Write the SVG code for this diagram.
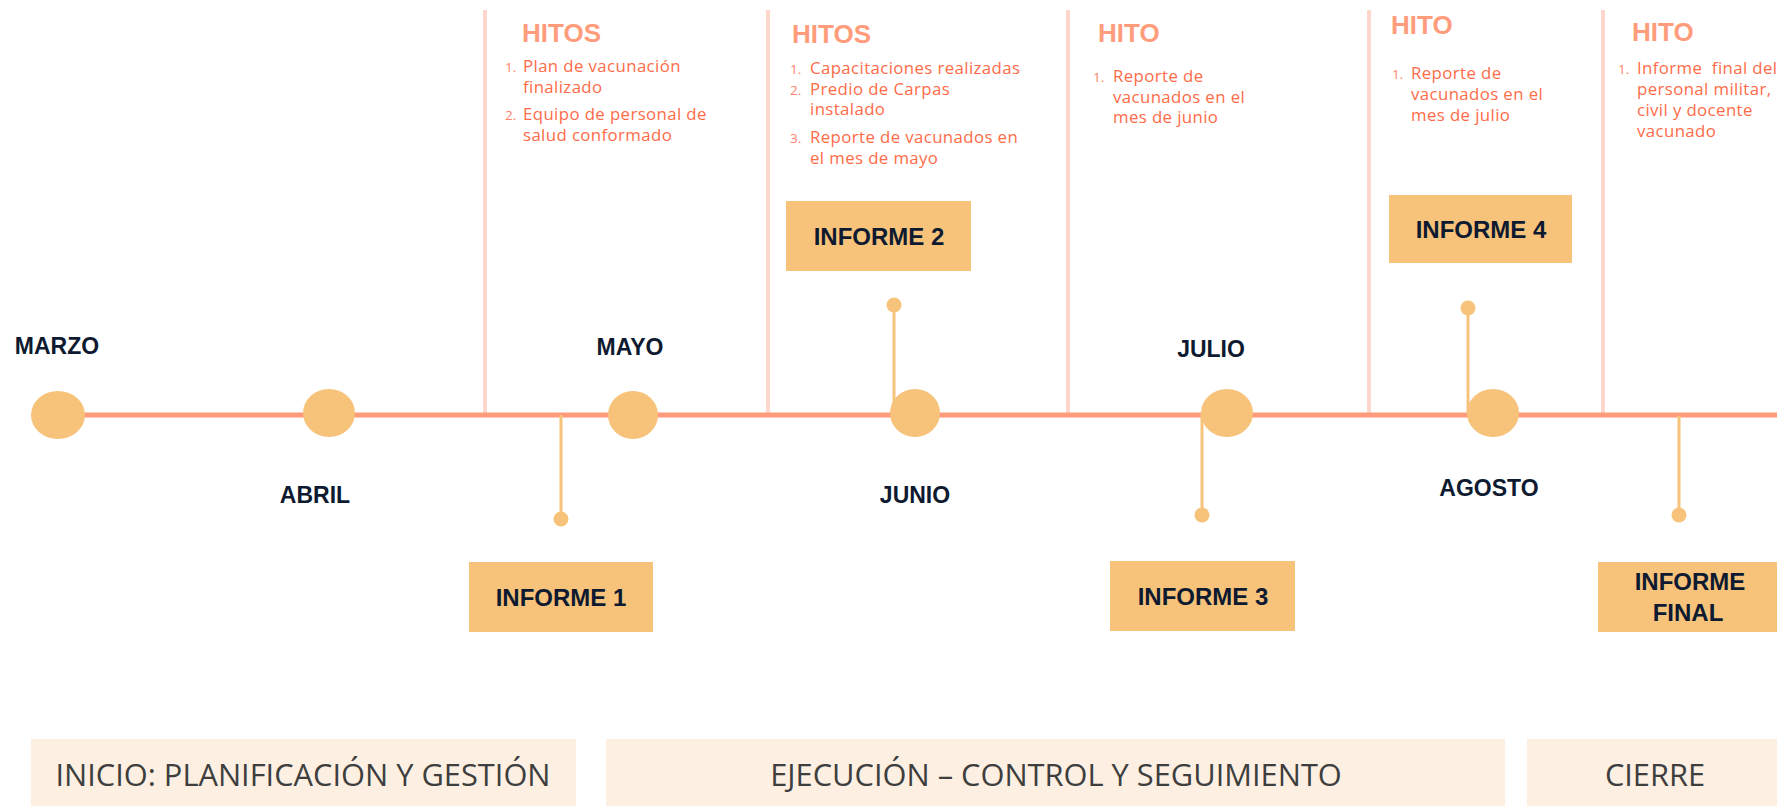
<svg xmlns="http://www.w3.org/2000/svg" width="1777" height="806" viewBox="0 0 1777 806">
<style>
.div{stroke:#FFD6CB;stroke-width:4;fill:none}
.tl{stroke:#FF9A7A;stroke-width:5;fill:none}
.dot{fill:#F7C27A}
.conn{stroke:#F7C27A;stroke-width:3;fill:none}
.box{fill:#F7C27A}
.mon{font-family:"Liberation Sans",Arial,sans-serif;font-weight:700;font-size:23px;fill:#0E1A30;text-anchor:middle}
.inf{font-family:"Liberation Sans",Arial,sans-serif;font-weight:700;font-size:24px;fill:#0E1A30;text-anchor:middle}
.hd{font-family:"Liberation Sans",Arial,sans-serif;font-weight:700;font-size:26px;fill:#FF9C7C}
.li{font-family:"Open Sans","Noto Sans",sans-serif;font-size:16.8px;letter-spacing:0.4px;fill:#FF6B48}
.num{font-family:"Open Sans","Noto Sans",sans-serif;font-size:13.5px;fill:#FF826A}
.ph{fill:#FDF0E2}
.pht{font-family:"Open Sans","Noto Sans",sans-serif;font-size:30.8px;fill:#3E3E3E;text-anchor:middle}
</style>
<rect width="1777" height="806" fill="#FFFFFF"/>
<g id="dividers">
<line class="div" x1="485" y1="10" x2="485" y2="415"/>
<line class="div" x1="768" y1="10" x2="768" y2="415"/>
<line class="div" x1="1068" y1="10" x2="1068" y2="415"/>
<line class="div" x1="1369" y1="10" x2="1369" y2="415"/>
<line class="div" x1="1603" y1="10" x2="1603" y2="415"/>
</g>
<g id="connectors">
<line class="tl" x1="58" y1="415" x2="1777" y2="415"/>
<line class="conn" x1="561" y1="415" x2="561" y2="519"/>
<circle class="dot" cx="561" cy="519" r="7.5"/>
<line class="conn" x1="894" y1="305" x2="894" y2="412"/>
<circle class="dot" cx="894" cy="305" r="7.5"/>
<line class="conn" x1="1202" y1="413" x2="1202" y2="515"/>
<circle class="dot" cx="1202" cy="515" r="7.5"/>
<line class="conn" x1="1468" y1="308" x2="1468" y2="413"/>
<circle class="dot" cx="1468" cy="308" r="7.5"/>
<line class="conn" x1="1679" y1="416" x2="1679" y2="515"/>
<circle class="dot" cx="1679" cy="515" r="7.5"/>
</g>
<g id="marzo"><ellipse class="dot" cx="58" cy="415" rx="27" ry="24"/><text class="mon" x="57" y="354">MARZO</text></g>
<g id="abril"><ellipse class="dot" cx="329" cy="413" rx="26" ry="24"/><text class="mon" x="315" y="503">ABRIL</text></g>
<g id="mayo"><ellipse class="dot" cx="633" cy="415" rx="25" ry="24"/><text class="mon" x="630" y="355">MAYO</text></g>
<g id="junio"><ellipse class="dot" cx="915" cy="413" rx="25" ry="24"/><text class="mon" x="915" y="503">JUNIO</text></g>
<g id="julio"><ellipse class="dot" cx="1227" cy="413" rx="26" ry="24"/><text class="mon" x="1211" y="357">JULIO</text></g>
<g id="agosto"><ellipse class="dot" cx="1493" cy="413" rx="26" ry="24"/><text class="mon" x="1489" y="496">AGOSTO</text></g>
<g id="informe1"><rect class="box" x="469" y="562" width="184" height="70"/><text class="inf" x="561" y="606">INFORME 1</text></g>
<g id="informe2"><rect class="box" x="786" y="201" width="185" height="70"/><text class="inf" x="879" y="245">INFORME 2</text></g>
<g id="informe3"><rect class="box" x="1110" y="561" width="185" height="70"/><text class="inf" x="1203" y="605">INFORME 3</text></g>
<g id="informe4"><rect class="box" x="1389" y="195" width="183" height="68"/><text class="inf" x="1481" y="238">INFORME 4</text></g>
<g id="informefinal"><rect class="box" x="1598" y="562" width="185" height="70"/><text class="inf" x="1690" y="590">INFORME</text><text class="inf" x="1688" y="621">FINAL</text></g>
<g id="hitos1">
<text class="hd" x="522" y="42">HITOS</text>
<text class="num" x="505" y="72">1.</text>
<text class="li" x="523" y="72">Plan de vacunación</text>
<text class="li" x="523" y="93">finalizado</text>
<text class="num" x="505" y="120">2.</text>
<text class="li" x="523" y="120">Equipo de personal de</text>
<text class="li" x="523" y="141">salud conformado</text>
</g>
<g id="hitos2">
<text class="hd" x="792" y="43">HITOS</text>
<text class="num" x="790" y="74">1.</text>
<text class="li" x="810" y="74">Capacitaciones realizadas</text>
<text class="num" x="790" y="95">2.</text>
<text class="li" x="810" y="95">Predio de Carpas</text>
<text class="li" x="810" y="115">instalado</text>
<text class="num" x="790" y="143">3.</text>
<text class="li" x="810" y="143">Reporte de vacunados en</text>
<text class="li" x="810" y="164">el mes de mayo</text>
</g>
<g id="hito3">
<text class="hd" x="1098" y="42">HITO</text>
<text class="num" x="1093" y="82">1.</text>
<text class="li" x="1113" y="82">Reporte de</text>
<text class="li" x="1113" y="103">vacunados en el</text>
<text class="li" x="1113" y="123">mes de junio</text>
</g>
<g id="hito4">
<text class="hd" x="1391" y="34">HITO</text>
<text class="num" x="1392" y="79">1.</text>
<text class="li" x="1411" y="79">Reporte de</text>
<text class="li" x="1411" y="100">vacunados en el</text>
<text class="li" x="1411" y="121">mes de julio</text>
</g>
<g id="hito5">
<text class="hd" x="1632" y="41">HITO</text>
<text class="num" x="1618" y="74">1.</text>
<text class="li" x="1637" y="74">Informe&#160; final del</text>
<text class="li" x="1637" y="95">personal militar,</text>
<text class="li" x="1637" y="116">civil y docente</text>
<text class="li" x="1637" y="137">vacunado</text>
</g>
<g id="fase-inicio"><rect class="ph" x="31" y="739" width="545" height="67"/><text class="pht" x="303" y="786">INICIO: PLANIFICACIÓN Y GESTIÓN</text></g>
<g id="fase-ejecucion"><rect class="ph" x="606" y="739" width="899" height="67"/><text class="pht" x="1056" y="786">EJECUCIÓN – CONTROL Y SEGUIMIENTO</text></g>
<g id="fase-cierre"><rect class="ph" x="1527" y="739" width="250" height="67"/><text class="pht" x="1655" y="786">CIERRE</text></g>
</svg>
